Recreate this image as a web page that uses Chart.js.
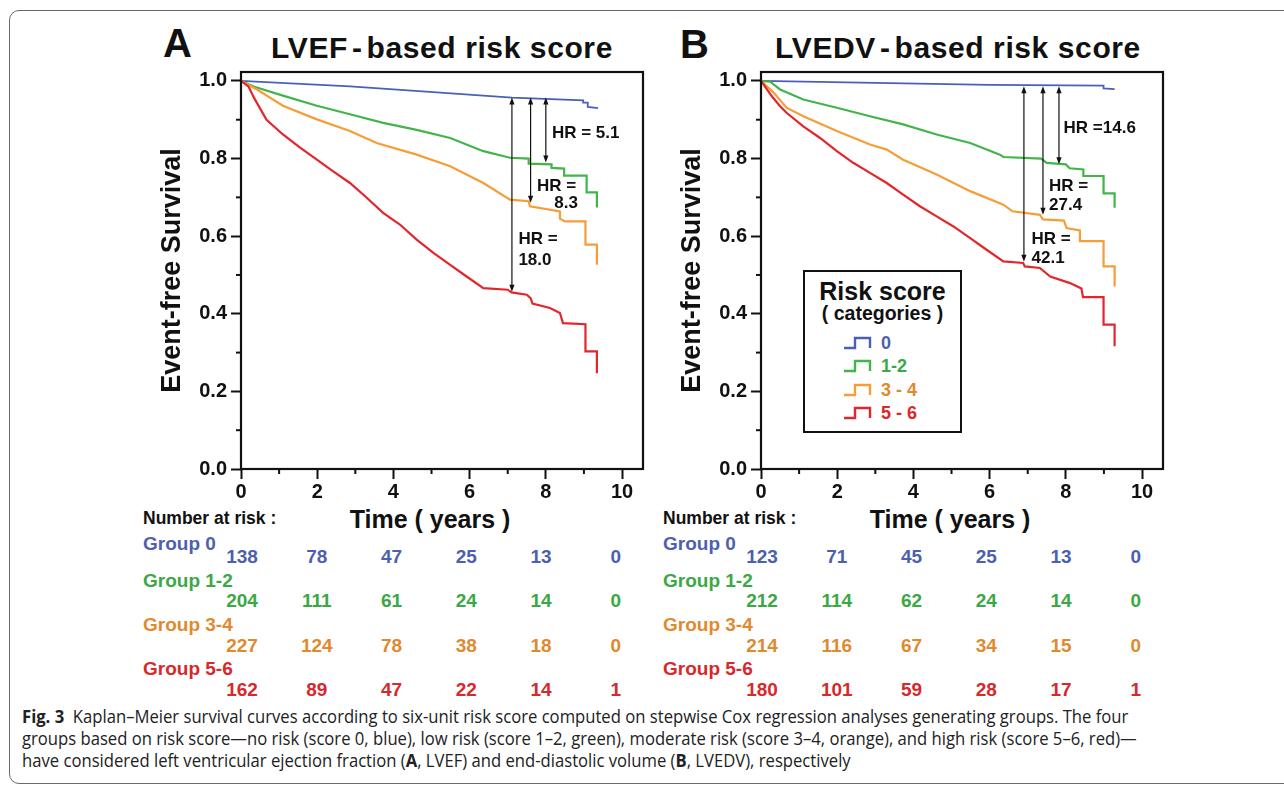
<!DOCTYPE html>
<html>
<head>
<meta charset="utf-8">
<script src="https://cdn.jsdelivr.net/npm/chart.js@4.4.0/dist/chart.umd.min.js"></script>
<style>
  body { margin:0; background:#fff; width:1284px; height:789px; overflow:hidden; position:relative;
         font-family:"Liberation Sans", Arial, sans-serif; color:#111; }
  .frame { position:absolute; left:9px; top:10px; width:1300px; height:772px; border:1.5px solid #6a6a6a; border-radius:10px; }
  .abs { position:absolute; white-space:nowrap; line-height:1; font-weight:bold; }
  canvas { position:absolute; }
  .legend { position:absolute; left:803px; top:270px; width:155px; height:159px; border:2px solid #111; background:#fff; }
  .legend .abs { color:#111; }
  .cap { position:absolute; left:22px; white-space:nowrap; font-family:"Open Sans", sans-serif; font-size:18px;
         line-height:22px; color:#222; transform-origin:0 50%; }
</style>
</head>
<body>
<div class="frame"></div>

<div class="abs" style="left:163px;top:23px;font-size:40px">A</div>
<div class="abs" style="left:442px;top:33px;font-size:30px;letter-spacing:0.6px;transform:translateX(-50%)">LVEF<span style="margin:0 4px">-</span>based risk score</div>
<div class="abs" style="left:680px;top:24px;font-size:40px">B</div>
<div class="abs" style="left:958px;top:33px;font-size:30px;letter-spacing:0.6px;transform:translateX(-50%)">LVEDV<span style="margin:0 4px">-</span>based risk score</div>

<canvas id="plotA" width="530" height="449" style="left:130px;top:52px"></canvas>
<canvas id="plotB" width="530" height="449" style="left:650px;top:52px"></canvas>

<div class="legend" id="legend">
  <div class="abs" style="left:0;width:155px;text-align:center;top:7px;font-size:25px">Risk score</div>
  <div class="abs" style="left:0;width:155px;text-align:center;top:32px;font-size:19.5px">( categories )</div>
</div>

<div id="tables"></div>

<div class="cap" id="cap1" style="top:705px"><b>Fig. 3</b>&nbsp; Kaplan–Meier survival curves according to six-unit risk score computed on stepwise Cox regression analyses generating groups. The four</div>
<div class="cap" id="cap2" style="top:727px">groups based on risk score—no risk (score 0, blue), low risk (score 1–2, green), moderate risk (score 3–4, orange), and high risk (score 5–6, red)—</div>
<div class="cap" id="cap3" style="top:749px">have considered left ventricular ejection fraction (<b>A</b>, LVEF) and end-diastolic volume (<b>B</b>, LVEDV), respectively</div>

<script>
// axes
const years = [0, 2, 4, 6, 8, 10]
const xMinor = [1, 3, 5, 7, 9]
const yTicks = [0, 0.2, 0.4, 0.6, 0.8, 1.0]
const yMinor = [0.1, 0.3, 0.5, 0.7, 0.9]

const groups = ['Group 0', 'Group 1-2', 'Group 3-4', 'Group 5-6']
const legendLabels = ['0', '1-2', '3 - 4', '5 - 6']

// panel A (LVEF) curves
const aT0 = [0, 2.86, 4.95, 7.11, 8.98, 8.98, 9.1, 9.1, 9.37]
const aS0 = [1.0, 0.986, 0.972, 0.957, 0.950, 0.944, 0.944, 0.933, 0.930]
const aT1 = [0, 0.35, 1.1, 1.99, 2.86, 3.73, 4.61, 5.49, 6.36, 7.06, 7.55, 7.55, 8.15, 8.15, 8.48, 8.48, 9.07, 9.07, 9.34, 9.34]
const aS1 = [1.0, 0.985, 0.962, 0.936, 0.914, 0.892, 0.874, 0.853, 0.819, 0.802, 0.800, 0.787, 0.785, 0.776, 0.774, 0.756, 0.756, 0.713, 0.713, 0.674]
const aT2 = [0, 0.42, 1.1, 1.99, 2.86, 3.56, 4.61, 5.49, 6.36, 7.06, 7.55, 7.58, 8.37, 8.37, 8.5, 9.04, 9.04, 9.34, 9.34]
const aS2 = [1.0, 0.978, 0.936, 0.901, 0.871, 0.840, 0.810, 0.780, 0.737, 0.694, 0.690, 0.677, 0.664, 0.645, 0.638, 0.638, 0.578, 0.578, 0.526]
const aT3 = [0, 0.2, 0.35, 0.67, 1.1, 1.55, 1.99, 2.42, 2.86, 3.3, 3.73, 4.17, 4.61, 5.05, 5.49, 5.92, 6.36, 7.0, 7.1, 7.5, 7.6, 7.65, 8.11, 8.37, 8.45, 9.04, 9.04, 9.34, 9.34]
const aS3 = [1.0, 0.985, 0.955, 0.90, 0.862, 0.828, 0.797, 0.767, 0.737, 0.699, 0.66, 0.63, 0.591, 0.557, 0.526, 0.496, 0.466, 0.462, 0.455, 0.449, 0.44, 0.426, 0.415, 0.402, 0.376, 0.373, 0.303, 0.303, 0.247]

// panel B (LVEDV) curves
const bT0 = [0, 3.0, 6.0, 8.99, 8.99, 9.28]
const bS0 = [1.0, 0.995, 0.99, 0.988, 0.981, 0.979]
const bT1 = [0, 0.24, 0.5, 1.11, 1.99, 2.86, 3.73, 4.61, 5.49, 6.27, 6.36, 7.35, 7.5, 8.0, 8.1, 8.46, 8.46, 8.99, 8.99, 9.28, 9.28]
const bS1 = [1.0, 0.998, 0.978, 0.952, 0.931, 0.909, 0.888, 0.862, 0.840, 0.810, 0.804, 0.800, 0.789, 0.785, 0.775, 0.772, 0.755, 0.755, 0.71, 0.71, 0.673]
const bT2 = [0, 0.33, 0.67, 1.11, 1.99, 2.86, 3.3, 3.73, 4.61, 5.49, 6.36, 6.6, 7.32, 7.4, 7.95, 8.02, 8.37, 8.37, 8.99, 8.99, 9.28, 9.28]
const bS2 = [1.0, 0.97, 0.931, 0.909, 0.871, 0.836, 0.823, 0.797, 0.759, 0.716, 0.681, 0.664, 0.655, 0.643, 0.64, 0.621, 0.615, 0.587, 0.587, 0.522, 0.522, 0.47]
const bT3 = [0, 0.28, 0.5, 0.67, 1.11, 1.55, 1.99, 2.42, 2.86, 3.3, 3.73, 4.17, 4.61, 5.05, 5.49, 5.92, 6.36, 6.88, 6.92, 7.32, 7.59, 8.11, 8.41, 8.45, 8.99, 8.99, 9.28, 9.28]
const bS3 = [1.0, 0.961, 0.935, 0.918, 0.883, 0.853, 0.819, 0.789, 0.763, 0.737, 0.707, 0.677, 0.651, 0.625, 0.595, 0.565, 0.535, 0.531, 0.522, 0.518, 0.496, 0.479, 0.465, 0.443, 0.443, 0.372, 0.372, 0.316]

// number at risk
const aRisk = [[138, 78, 47, 25, 13, 0], [204, 111, 61, 24, 14, 0], [227, 124, 78, 38, 18, 0], [162, 89, 47, 22, 14, 1]]
const bRisk = [[123, 71, 45, 25, 13, 0], [212, 114, 62, 24, 14, 0], [214, 116, 67, 34, 15, 0], [180, 101, 59, 28, 17, 1]]

// hazard ratio arrows (time, top survival, bottom survival)
const aArrowT = [7.11, 7.6, 8.0]
const aArrowTop = [0.957, 0.957, 0.957]
const aArrowBottom = [0.457, 0.686, 0.79]
const aHR = ['18.0', '8.3', '5.1']
const bArrowT = [6.9, 7.4, 7.82]
const bArrowTop = [0.986, 0.986, 0.986]
const bArrowBottom = [0.534, 0.655, 0.785]
const bHR = ['42.1', '27.4', '14.6']

const lineColors = ['#4a60b8', '#42b54a', '#f59e38', '#e3262c']
const textColors = ['#4d5fb0', '#3aa845', '#df8a2e', '#d8282c']
const FONT = '"Liberation Sans", Arial, sans-serif'

const makeExtras = (arrowT, arrowTop, arrowBottom, labels) => ({
  id: 'extras',
  afterDraw(chart){
    const {ctx, chartArea: a, scales: {x, y}} = chart
    ctx.save()
    ctx.strokeStyle = '#111'
    ctx.lineWidth = 2.2
    ctx.strokeRect(a.left, a.top, a.right - a.left, a.bottom - a.top)
    // minor ticks
    ctx.lineWidth = 2
    xMinor.forEach(v => {
      const px = x.getPixelForValue(v)
      ctx.beginPath(); ctx.moveTo(px, a.bottom); ctx.lineTo(px, a.bottom + 5); ctx.stroke()
    })
    yMinor.forEach(v => {
      const py = y.getPixelForValue(v)
      ctx.beginPath(); ctx.moveTo(a.left - 5, py); ctx.lineTo(a.left, py); ctx.stroke()
    })
    // arrows
    ctx.lineWidth = 1.2
    ctx.fillStyle = '#111'
    arrowT.forEach((t, i) => {
      const px = x.getPixelForValue(t)
      const y1 = y.getPixelForValue(arrowTop[i])
      const y2 = y.getPixelForValue(arrowBottom[i])
      ctx.beginPath(); ctx.moveTo(px, y1 + 4); ctx.lineTo(px, y2 - 4); ctx.stroke()
      ctx.beginPath(); ctx.moveTo(px, y1); ctx.lineTo(px - 2.6, y1 + 7); ctx.lineTo(px + 2.6, y1 + 7); ctx.closePath(); ctx.fill()
      ctx.beginPath(); ctx.moveTo(px, y2); ctx.lineTo(px - 2.6, y2 - 7); ctx.lineTo(px + 2.6, y2 - 7); ctx.closePath(); ctx.fill()
    })
    // HR labels
    ctx.font = 'bold 17px ' + FONT
    ctx.textBaseline = 'middle'
    ctx.textAlign = 'left'
    labels.forEach(l => ctx.fillText(l.text, x.getPixelForValue(l.t), y.getPixelForValue(l.s) + 1))
    ctx.restore()
  }
})

const tickFont = {family: FONT, size: 20, weight: 'bold'}

const panel = (id, curves, extras) => new Chart(document.getElementById(id), {
  type: 'line',
  data: {
    datasets: curves.map((c, i) => ({
      label: legendLabels[i],
      data: c[0].map((t, k) => ({x: t, y: c[1][k]})),
      borderColor: lineColors[i],
      borderWidth: i === 0 ? 1.8 : 2.2,
      pointRadius: 0,
      tension: 0,
      fill: false
    })).reverse()
  },
  options: {
    responsive: false,
    animation: false,
    events: [],
    layout: {padding: {top: 20, right: 17, left: 0, bottom: 0}},
    plugins: {legend: {display: false}, tooltip: {enabled: false}},
    scales: {
      x: {
        type: 'linear', min: 0, max: 10.55,
        afterBuildTicks: s => { s.ticks = years.map(v => ({value: v})) },
        afterFit: s => { s.height = 32 },
        ticks: {font: tickFont, color: '#111', padding: 1, maxRotation: 0, autoSkip: false, callback: v => String(v)},
        grid: {drawOnChartArea: false, drawTicks: true, tickLength: 10, tickWidth: 2, tickColor: '#111'},
        border: {display: false}
      },
      y: {
        type: 'linear', min: 0, max: 1.023,
        afterBuildTicks: s => { s.ticks = yTicks.map(v => ({value: v})) },
        afterFit: s => { s.width = 111 },
        ticks: {font: tickFont, color: '#111', padding: 4, callback: v => v.toFixed(1)},
        grid: {drawOnChartArea: false, drawTicks: true, tickLength: 10, tickWidth: 2, tickColor: '#111'},
        border: {display: false},
        title: {display: true, text: 'Event-free Survival', color: '#111',
                font: {family: FONT, size: 27, weight: 'bold'}, padding: {top: 26, bottom: 0}}
      }
    }
  },
  plugins: [extras]
})

const hrLayoutA = [
  {text: 'HR = ' + aHR[2], t: 8.16, s: 0.867},
  {text: 'HR =', t: 7.77, s: 0.731}, {text: aHR[1], t: 8.22, s: 0.687},
  {text: 'HR =', t: 7.28, s: 0.595}, {text: aHR[0], t: 7.28, s: 0.541}
]
const hrLayoutB = [
  {text: 'HR =' + bHR[2], t: 7.94, s: 0.881},
  {text: 'HR =', t: 7.56, s: 0.731}, {text: bHR[1], t: 7.56, s: 0.683},
  {text: 'HR =', t: 7.1, s: 0.595}, {text: bHR[0], t: 7.1, s: 0.546}
]

const chartA = panel('plotA', [[aT0, aS0], [aT1, aS1], [aT2, aS2], [aT3, aS3]],
  makeExtras(aArrowT, aArrowTop, aArrowBottom, hrLayoutA))
const chartB = panel('plotB', [[bT0, bS0], [bT1, bS1], [bT2, bS2], [bT3, bS3]],
  makeExtras(bArrowT, bArrowTop, bArrowBottom, hrLayoutB))

// number-at-risk tables under each panel
const tables = document.getElementById('tables')
const labelY = [534, 571, 615, 659]
const numberY = [547, 591, 636, 680]
const addText = (txt, left, top, size, color, center) => {
  const d = document.createElement('div')
  d.className = 'abs'
  d.textContent = txt
  d.style.left = left + 'px'
  d.style.top = top + 'px'
  d.style.fontSize = size + 'px'
  d.style.color = color
  if(center) d.style.transform = 'translateX(-50%)'
  tables.appendChild(d)
}
const riskTable = (chart, canvasLeft, risk) => {
  const x = chart.scales.x
  const x0 = canvasLeft + x.getPixelForValue(0)
  addText('Number at risk :', canvasLeft + 13, 510, 17.5, '#111')
  addText('Time ( years )', (canvasLeft + x.getPixelForValue(0) + canvasLeft + chart.chartArea.right) / 2 - 12, 507, 25, '#111', true)
  risk.forEach((row, g) => {
    addText(groups[g], canvasLeft + 13, labelY[g], 19, textColors[g])
    row.forEach((n, k) => {
      const px = x0 + 1 + (canvasLeft + x.getPixelForValue(years[k]) - x0) * 0.981
      addText(String(n), px, numberY[g], 19, textColors[g], true)
    })
  })
}
riskTable(chartA, 130, aRisk)
riskTable(chartB, 650, bRisk)

// legend (panel B)
const legend = document.getElementById('legend')
legendLabels.forEach((lab, i) => {
  const top = 62 + i * 23.3
  const icon = document.createElementNS('http://www.w3.org/2000/svg', 'svg')
  icon.setAttribute('width', '30'); icon.setAttribute('height', '14')
  icon.style.position = 'absolute'
  icon.style.left = '38px'
  icon.style.top = (top + 2) + 'px'
  icon.innerHTML = `<polyline points="1,12 12,12 12,2 27,2 27,12" fill="none" stroke="${lineColors[i]}" stroke-width="2.4"/>`
  legend.appendChild(icon)
  const t = document.createElement('div')
  t.className = 'abs'
  t.textContent = lab
  t.style.left = '76px'
  t.style.top = top + 'px'
  t.style.fontSize = '18px'
  t.style.color = textColors[i]
  legend.appendChild(t)
})

// fit the caption to the width of the original lines
const cap1 = document.getElementById('cap1')
const k = 1106 / cap1.scrollWidth
;['cap1', 'cap2', 'cap3'].forEach(id => { document.getElementById(id).style.transform = `scaleX(${k})` })
</script>
</body>
</html>
